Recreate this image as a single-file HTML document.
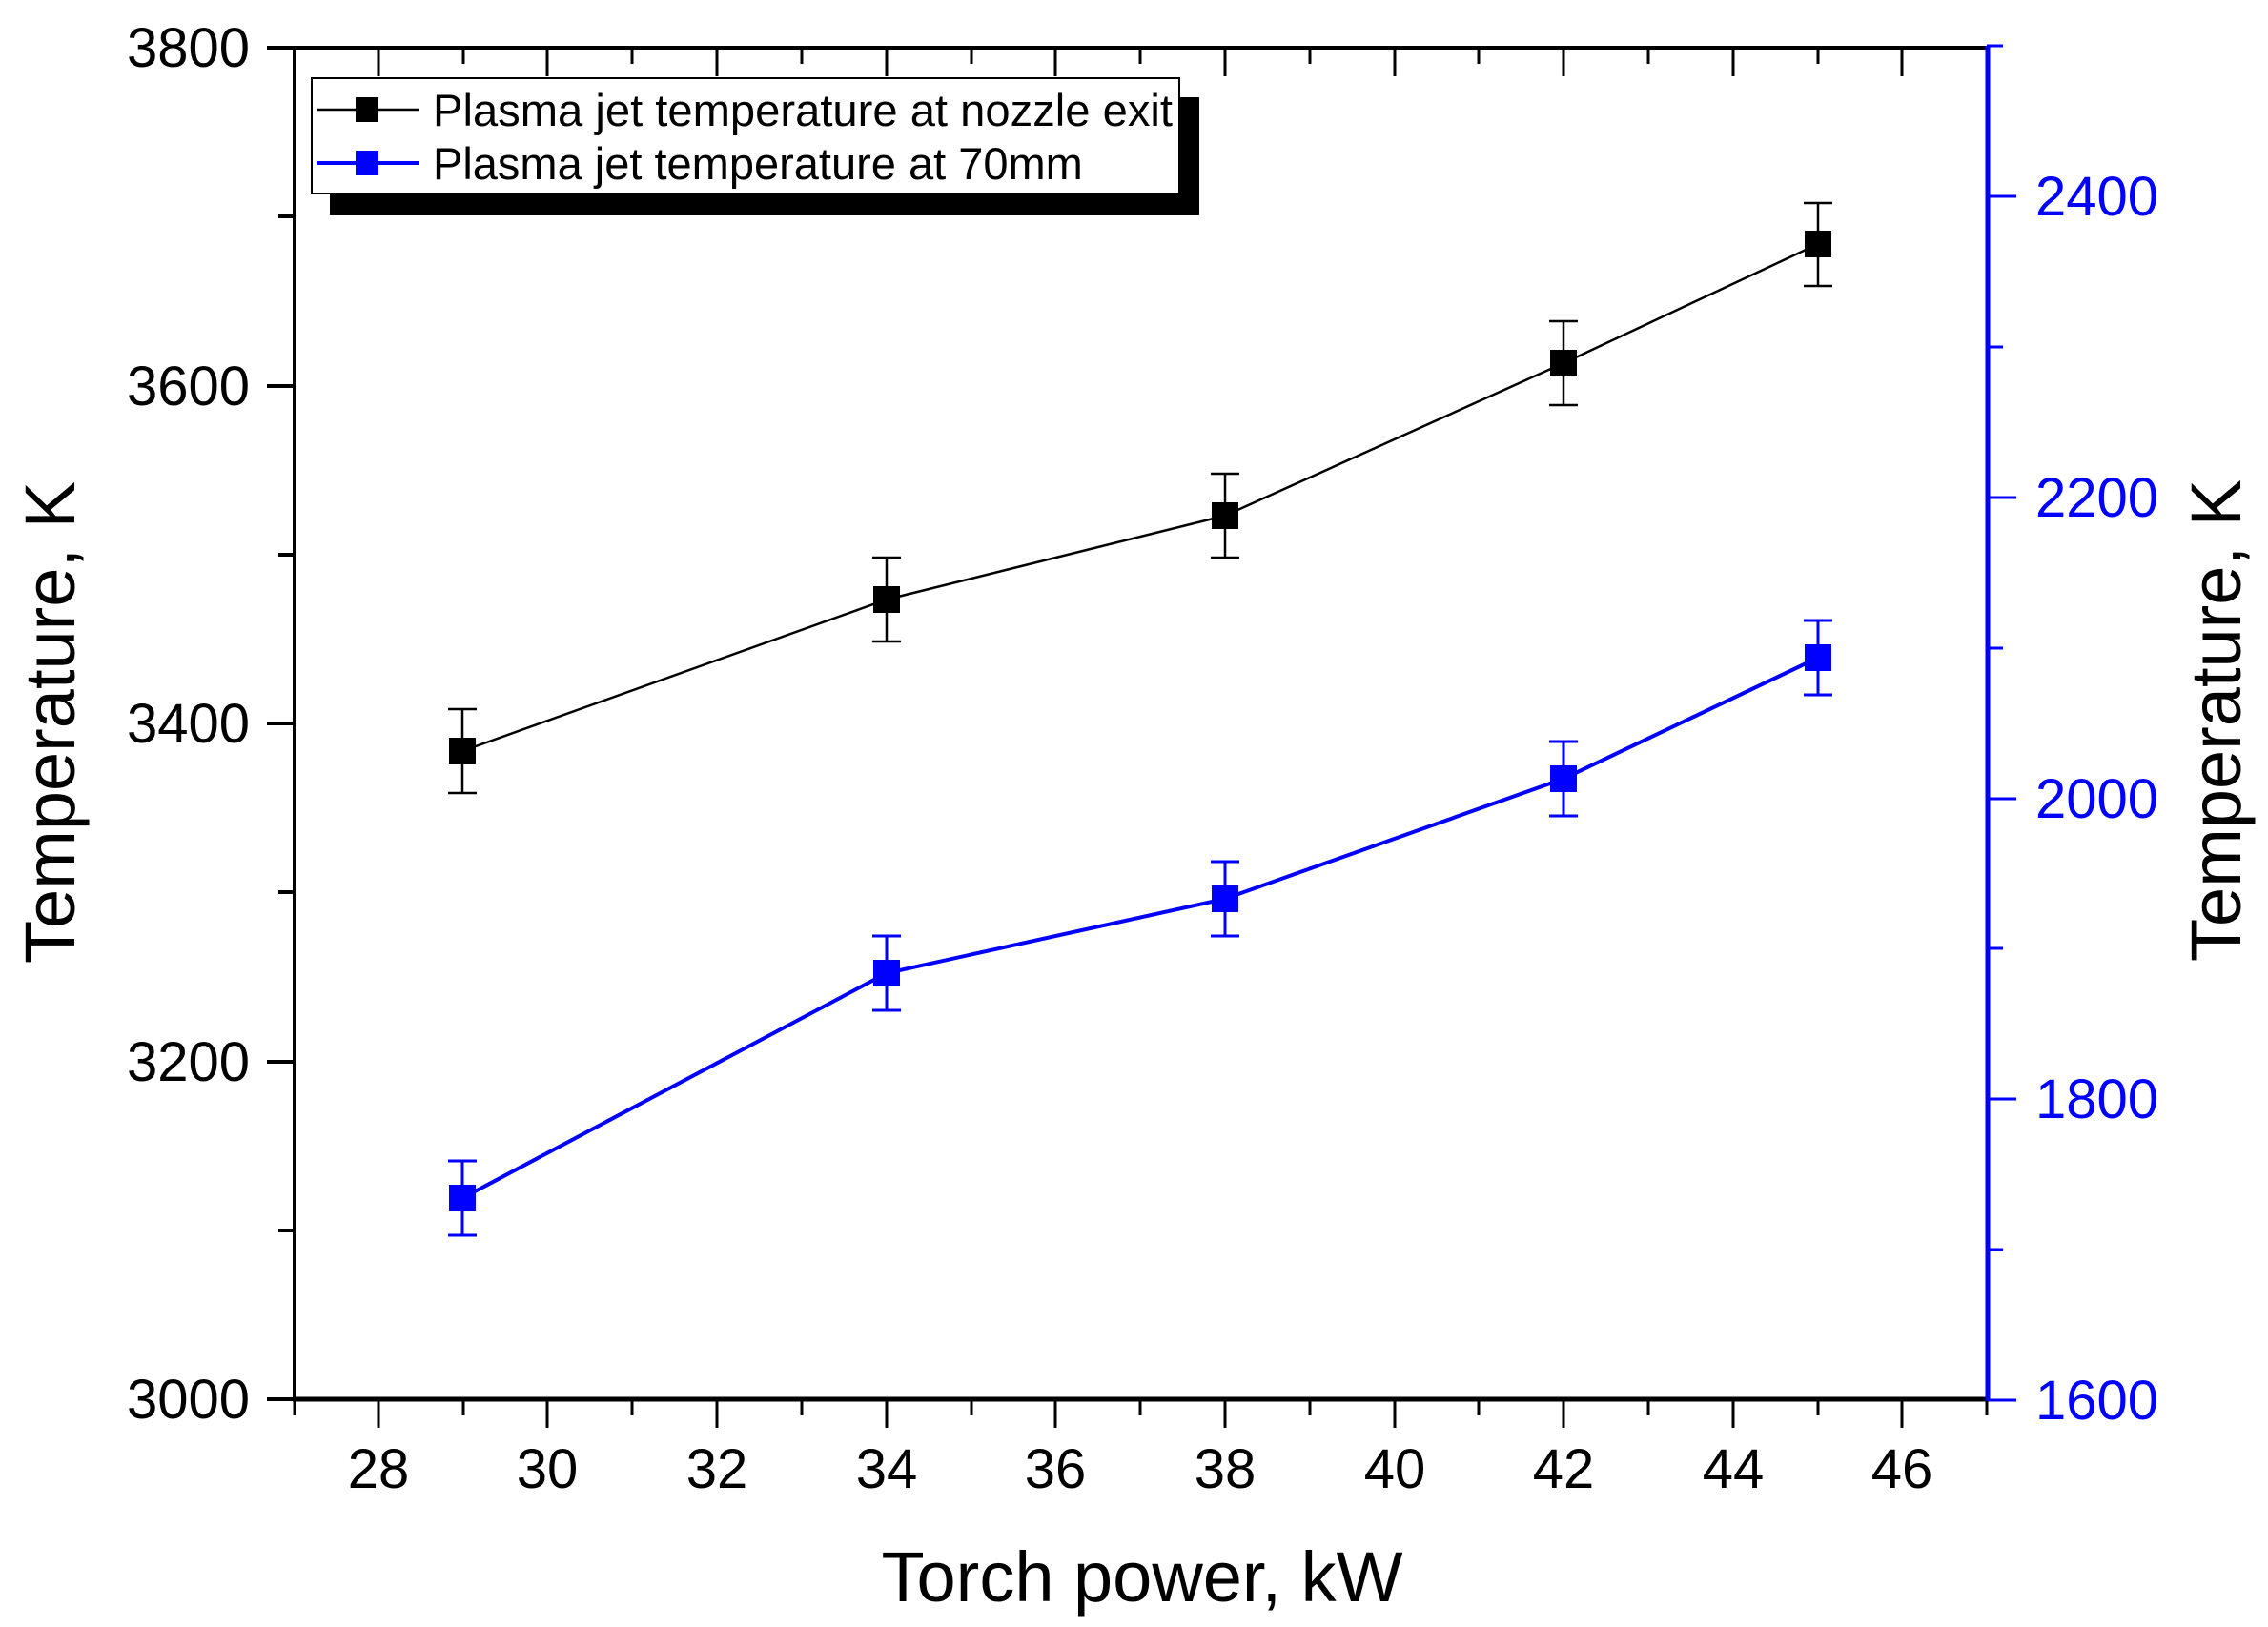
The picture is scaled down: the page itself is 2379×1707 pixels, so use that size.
<!DOCTYPE html>
<html><head><meta charset="utf-8"><style>
html,body{margin:0;padding:0;background:#fff;}
svg{display:block;font-family:"Liberation Sans",Arial,sans-serif;}
</style></head><body>
<svg width="2379" height="1707" viewBox="0 0 2379 1707" xmlns="http://www.w3.org/2000/svg">
<g stroke="#000" stroke-width="4">
<line x1="280" y1="50" x2="309" y2="50"/><line x1="292" y1="227" x2="309" y2="227"/>
<line x1="280" y1="405" x2="309" y2="405"/><line x1="292" y1="582" x2="309" y2="582"/>
<line x1="280" y1="759" x2="309" y2="759"/><line x1="292" y1="936" x2="309" y2="936"/>
<line x1="280" y1="1114" x2="309" y2="1114"/><line x1="292" y1="1291" x2="309" y2="1291"/>
<line x1="280" y1="1468" x2="309" y2="1468"/>
</g>
<g font-size="58" text-anchor="end">
<text x="262" y="70">3800</text><text x="262" y="425">3600</text><text x="262" y="779">3400</text><text x="262" y="1134">3200</text><text x="262" y="1488">3000</text>
</g>
<g stroke="#000" stroke-width="3">
<line x1="309" y1="1468" x2="309" y2="1485"/>
<line x1="397" y1="1468" x2="397" y2="1498"/><line x1="486" y1="1468" x2="486" y2="1485"/>
<line x1="574" y1="1468" x2="574" y2="1498"/><line x1="663" y1="1468" x2="663" y2="1485"/>
<line x1="752" y1="1468" x2="752" y2="1498"/><line x1="841" y1="1468" x2="841" y2="1485"/>
<line x1="930" y1="1468" x2="930" y2="1498"/><line x1="1019" y1="1468" x2="1019" y2="1485"/>
<line x1="1107" y1="1468" x2="1107" y2="1498"/><line x1="1196" y1="1468" x2="1196" y2="1485"/>
<line x1="1285" y1="1468" x2="1285" y2="1498"/><line x1="1374" y1="1468" x2="1374" y2="1485"/>
<line x1="1463" y1="1468" x2="1463" y2="1498"/><line x1="1551" y1="1468" x2="1551" y2="1485"/>
<line x1="1640" y1="1468" x2="1640" y2="1498"/><line x1="1729" y1="1468" x2="1729" y2="1485"/>
<line x1="1818" y1="1468" x2="1818" y2="1498"/><line x1="1907" y1="1468" x2="1907" y2="1485"/>
<line x1="1995" y1="1468" x2="1995" y2="1498"/><line x1="2084" y1="1468" x2="2084" y2="1485"/>
<line x1="397" y1="50" x2="397" y2="80"/><line x1="486" y1="50" x2="486" y2="67"/>
<line x1="574" y1="50" x2="574" y2="80"/><line x1="663" y1="50" x2="663" y2="67"/>
<line x1="752" y1="50" x2="752" y2="80"/><line x1="841" y1="50" x2="841" y2="67"/>
<line x1="930" y1="50" x2="930" y2="80"/><line x1="1019" y1="50" x2="1019" y2="67"/>
<line x1="1107" y1="50" x2="1107" y2="80"/><line x1="1196" y1="50" x2="1196" y2="67"/>
<line x1="1285" y1="50" x2="1285" y2="80"/><line x1="1374" y1="50" x2="1374" y2="67"/>
<line x1="1463" y1="50" x2="1463" y2="80"/><line x1="1551" y1="50" x2="1551" y2="67"/>
<line x1="1640" y1="50" x2="1640" y2="80"/><line x1="1729" y1="50" x2="1729" y2="67"/>
<line x1="1818" y1="50" x2="1818" y2="80"/><line x1="1907" y1="50" x2="1907" y2="67"/>
<line x1="1995" y1="50" x2="1995" y2="80"/>
</g>
<g font-size="58" text-anchor="middle">
<text x="397" y="1561">28</text><text x="574" y="1561">30</text><text x="752" y="1561">32</text><text x="930" y="1561">34</text><text x="1107" y="1561">36</text>
<text x="1285" y="1561">38</text><text x="1463" y="1561">40</text><text x="1640" y="1561">42</text><text x="1818" y="1561">44</text><text x="1995" y="1561">46</text>
</g>
<text x="1198" y="1680" font-size="74" text-anchor="middle">Torch power, kW</text>
<text transform="translate(78,758) rotate(-90)" font-size="74" text-anchor="middle">Temperature, K</text>
<text transform="translate(2350,756) rotate(-90)" font-size="74" text-anchor="middle">Temperature, K</text>
<g stroke="#00f" stroke-width="3">
<line x1="2084" y1="48" x2="2101" y2="48"/>
<line x1="2084" y1="206" x2="2115" y2="206"/><line x1="2084" y1="364" x2="2101" y2="364"/>
<line x1="2084" y1="522" x2="2115" y2="522"/><line x1="2084" y1="680" x2="2101" y2="680"/>
<line x1="2084" y1="838" x2="2115" y2="838"/><line x1="2084" y1="995" x2="2101" y2="995"/>
<line x1="2084" y1="1153" x2="2115" y2="1153"/><line x1="2084" y1="1311" x2="2101" y2="1311"/>
<line x1="2084" y1="1469" x2="2115" y2="1469"/>
</g>
<g font-size="58" fill="#00f" text-anchor="end">
<text x="2264" y="226">2400</text><text x="2264" y="542">2200</text><text x="2264" y="858">2000</text><text x="2264" y="1173">1800</text><text x="2264" y="1489">1600</text>
</g>
<line x1="307" y1="50" x2="2086" y2="50" stroke="#000" stroke-width="4"/>
<line x1="307" y1="1468" x2="2086" y2="1468" stroke="#000" stroke-width="5"/>
<line x1="309" y1="48" x2="309" y2="1470" stroke="#000" stroke-width="4"/>
<line x1="2085" y1="48" x2="2085" y2="1470" stroke="#00f" stroke-width="5"/>
<polyline points="485,788 930,629 1285,541 1640,381 1907,256" fill="none" stroke="#000" stroke-width="2.5"/>
<g stroke="#000" stroke-width="2.5">
<line x1="485" y1="744" x2="485" y2="832"/><line x1="470" y1="744" x2="500" y2="744"/><line x1="470" y1="832" x2="500" y2="832"/>
<line x1="930" y1="585" x2="930" y2="673"/><line x1="915" y1="585" x2="945" y2="585"/><line x1="915" y1="673" x2="945" y2="673"/>
<line x1="1285" y1="497" x2="1285" y2="585"/><line x1="1270" y1="497" x2="1300" y2="497"/><line x1="1270" y1="585" x2="1300" y2="585"/>
<line x1="1640" y1="337" x2="1640" y2="425"/><line x1="1625" y1="337" x2="1655" y2="337"/><line x1="1625" y1="425" x2="1655" y2="425"/>
<line x1="1907" y1="213" x2="1907" y2="300"/><line x1="1892" y1="213" x2="1922" y2="213"/><line x1="1892" y1="300" x2="1922" y2="300"/>
</g>
<g fill="#000">
<rect x="471" y="774" width="28" height="28"/><rect x="916" y="615" width="28" height="28"/><rect x="1271" y="527" width="28" height="28"/><rect x="1626" y="367" width="28" height="28"/><rect x="1893" y="242" width="28" height="28"/>
</g>
<polyline points="485,1257 930,1021 1285,943 1640,817 1907,690" fill="none" stroke="#00f" stroke-width="4"/>
<g stroke="#00f" stroke-width="3">
<line x1="485" y1="1218" x2="485" y2="1296"/><line x1="470" y1="1218" x2="500" y2="1218"/><line x1="470" y1="1296" x2="500" y2="1296"/>
<line x1="930" y1="982" x2="930" y2="1060"/><line x1="915" y1="982" x2="945" y2="982"/><line x1="915" y1="1060" x2="945" y2="1060"/>
<line x1="1285" y1="904" x2="1285" y2="982"/><line x1="1270" y1="904" x2="1300" y2="904"/><line x1="1270" y1="982" x2="1300" y2="982"/>
<line x1="1640" y1="778" x2="1640" y2="856"/><line x1="1625" y1="778" x2="1655" y2="778"/><line x1="1625" y1="856" x2="1655" y2="856"/>
<line x1="1907" y1="651" x2="1907" y2="729"/><line x1="1892" y1="651" x2="1922" y2="651"/><line x1="1892" y1="729" x2="1922" y2="729"/>
</g>
<g fill="#00f">
<rect x="471" y="1243" width="28" height="28"/><rect x="916" y="1007" width="28" height="28"/><rect x="1271" y="929" width="28" height="28"/><rect x="1626" y="803" width="28" height="28"/><rect x="1893" y="676" width="28" height="28"/>
</g>
<rect x="346" y="102" width="912" height="124" fill="#000"/>
<rect x="327" y="82" width="910" height="121" fill="#fff" stroke="#000" stroke-width="2"/>
<line x1="332" y1="115" x2="440" y2="115" stroke="#000" stroke-width="2.5"/>
<rect x="373" y="102" width="24" height="26" fill="#000"/>
<line x1="332" y1="171" x2="440" y2="171" stroke="#00f" stroke-width="4"/>
<rect x="373" y="158" width="24" height="26" fill="#00f"/>
<g font-size="47">
<text x="454" y="132" textLength="776" lengthAdjust="spacingAndGlyphs">Plasma jet temperature at nozzle exit</text>
<text x="454" y="188">Plasma jet temperature at 70mm</text>
</g>
</svg>
</body></html>
